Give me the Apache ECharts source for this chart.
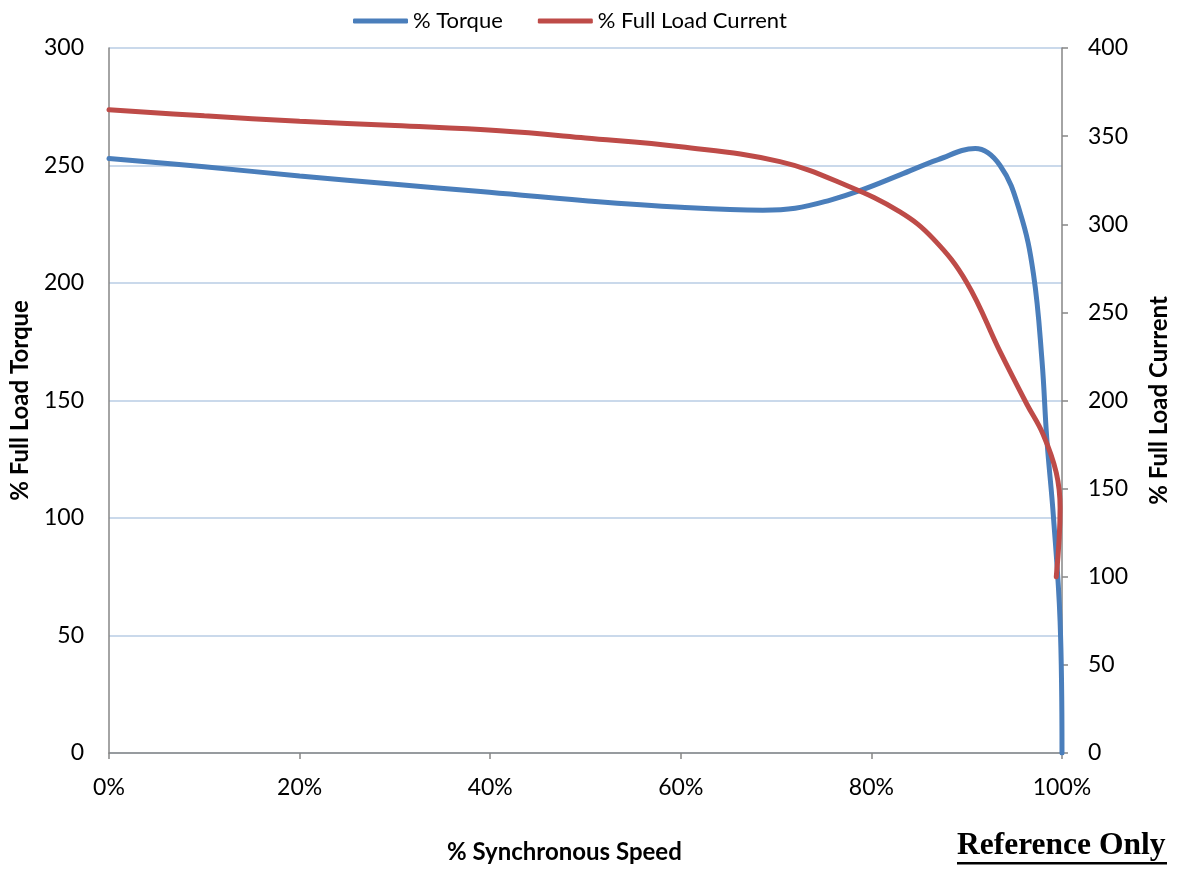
<!DOCTYPE html>
<html>
<head>
<meta charset="utf-8">
<script src="https://cdn.jsdelivr.net/npm/echarts@6/dist/echarts.min.js"></script>
<style>html,body{margin:0;padding:0;background:#fff;}#chart{width:1177px;height:872px;}</style>
</head>
<body>
<div id="chart"></div>
<script>
// % synchronous speed vs % full load torque (left axis)
const torqueSpeed = [0, 10, 20, 30, 39, 50, 60, 68.6, 72, 75.7, 79, 83, 87, 90.9, 93.5, 95.6, 97, 97.9, 98.4, 99.1, 99.8, 100];
const torqueValues = [253, 249.5, 245.5, 242, 238.9, 235, 232.2, 231, 231.8, 235.3, 239.6, 246, 252.5, 257.2, 250, 230, 204, 167, 134, 100.6, 56, 0];
// % synchronous speed vs % full load current (right axis)
const currentSpeed = [0, 10, 20, 30, 41, 50, 60, 70.4, 77.4, 83, 86.5, 90, 93.5, 96.3, 98, 99.4, 99.8, 99.4];
const currentValues = [365, 361.5, 358.5, 356, 353, 349, 344, 335.5, 322, 307, 291.7, 267, 227.7, 198, 181, 159, 139, 100];
const xTicks = [0, 20, 40, 60, 80, 100];
const seriesNames = ['% Torque', '% Full Load Current'];

const chart = echarts.init(document.getElementById('chart'));
const font = 'Lato, "Open Sans", sans-serif';
const axisGray = '#868686';
chart.setOption({
  animation: false,
  textStyle: {fontFamily: font},
  legend: {
    top: 5, left: 348,
    itemWidth: 55, itemHeight: 5, itemGap: 35,
    icon: 'roundRect',
    textStyle: {fontSize: 22, color: '#000', fontFamily: font},
    data: seriesNames
  },
  grid: {left: 109, right: 115, top: 48, bottom: 119, containLabel: false, outerBoundsMode: 'none'},
  xAxis: {
    type: 'value', min: 0, max: 100, interval: 20,
    axisLine: {show: true, lineStyle: {color: axisGray, width: 1.5}},
    axisTick: {show: true, length: 6, lineStyle: {color: axisGray, width: 1.5}},
    axisLabel: {formatter: v => xTicks.includes(v) ? v + '%' : '', fontSize: 23, color: '#000', margin: 23},
    splitLine: {show: false}
  },
  yAxis: [{
    type: 'value', min: 0, max: 300, interval: 50, position: 'left',
    name: '% Full Load Torque', nameLocation: 'middle', nameGap: 77,
    nameTextStyle: {fontSize: 24, fontWeight: 'bold', color: '#000'},
    axisLine: {show: true, lineStyle: {color: axisGray, width: 1.5}},
    axisTick: {show: false},
    axisLabel: {fontSize: 23, color: '#000', margin: 25},
    splitLine: {show: true, lineStyle: {color: '#b9cde5', width: 1.5}}
  }, {
    type: 'value', min: 0, max: 400, interval: 50, position: 'right',
    name: '% Full Load Current', nameLocation: 'middle', nameGap: 85, nameRotate: 90,
    nameTextStyle: {fontSize: 24, fontWeight: 'bold', color: '#000'},
    axisLine: {show: true, lineStyle: {color: axisGray, width: 1.5}},
    axisTick: {show: true, length: 6, lineStyle: {color: axisGray, width: 1.5}},
    axisLabel: {fontSize: 23, color: '#000', margin: 26},
    splitLine: {show: false}
  }],
  series: [{
    name: seriesNames[0], type: 'line', yAxisIndex: 0, smooth: 0.4, symbol: 'none',
    data: torqueSpeed.map((s, i) => [s, torqueValues[i]]),
    lineStyle: {color: '#4a7ebb', width: 5, cap: 'round'},
    itemStyle: {color: '#4a7ebb'}
  }, {
    name: seriesNames[1], type: 'line', yAxisIndex: 1, smooth: 0.4, symbol: 'none',
    data: currentSpeed.map((s, i) => [s, currentValues[i]]),
    lineStyle: {color: '#be4b48', width: 5, cap: 'round'},
    itemStyle: {color: '#be4b48'}
  }],
  graphic: [{
    type: 'text', left: 447, top: 840,
    style: {text: '% Synchronous Speed', font: 'bold 24px ' + font, fill: '#000'}
  }, {
    type: 'text', left: 957, top: 830,
    style: {text: 'Reference Only', font: 'bold 31.5px "Liberation Serif", "Times New Roman", serif', fill: '#000'}
  }, {
    type: 'rect', shape: {x: 957, y: 862, width: 210, height: 2.5}, style: {fill: '#000'}
  }]
});
</script>
</body>
</html>
